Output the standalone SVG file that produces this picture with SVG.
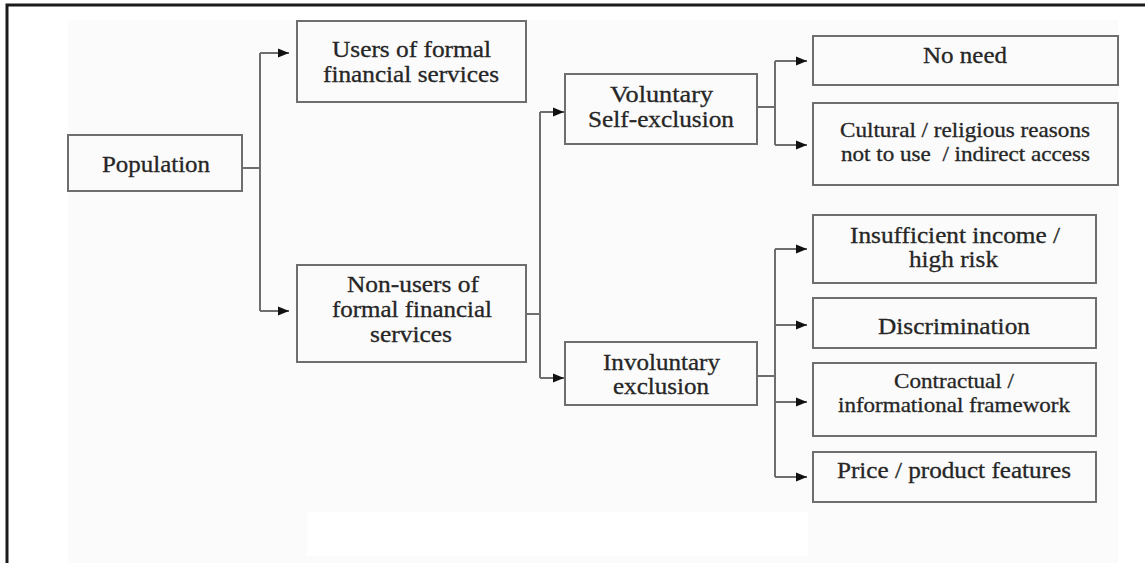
<svg xmlns="http://www.w3.org/2000/svg" width="1145" height="563" viewBox="0 0 1145 563">
<style>
.box{fill:none;stroke:#6e6e6e;stroke-width:2}
.t{font-family:'Liberation Serif','Times New Roman',serif;font-size:23px;fill:#262626;stroke:#262626;stroke-width:0.3;text-anchor:middle}
.s{font-size:21px}
.c{fill:none;stroke:#6e6e6e;stroke-width:2}
</style>
<defs>
<marker id="ah" markerUnits="userSpaceOnUse" markerWidth="12" markerHeight="10" refX="11" refY="5" orient="auto">
<path d="M0,0.5 L11,5 L0,9.5 z" fill="#111"/>
</marker>
</defs>
<rect x="0" y="0" width="1145" height="563" fill="#fff"/>
<rect x="68" y="20" width="1050" height="543" fill="#fbfbfb"/>
<rect x="307" y="512" width="501" height="44" fill="#fff"/>
<path d="M7,563 V5 H1145" fill="none" stroke="#1a1a1a" stroke-width="3"/>

<g id="connectors">
<path class="c" d="M242,168 H260 M260,53 V311"/>
<path class="c" d="M260,53 H289" marker-end="url(#ah)"/>
<path class="c" d="M260,311 H289" marker-end="url(#ah)"/>
<path class="c" d="M526,314 H540 M540,112 V378"/>
<path class="c" d="M540,112 H564" marker-end="url(#ah)"/>
<path class="c" d="M540,378 H564" marker-end="url(#ah)"/>
<path class="c" d="M757,107 H775 M775,61 V145"/>
<path class="c" d="M775,61 H807" marker-end="url(#ah)"/>
<path class="c" d="M775,145 H807" marker-end="url(#ah)"/>
<path class="c" d="M757,376 H775 M775,249 V477"/>
<path class="c" d="M775,249 H807" marker-end="url(#ah)"/>
<path class="c" d="M775,325 H807" marker-end="url(#ah)"/>
<path class="c" d="M775,402 H807" marker-end="url(#ah)"/>
<path class="c" d="M775,477 H807" marker-end="url(#ah)"/>
</g>

<g id="population">
<rect class="box" x="68" y="135" width="174" height="56"/>
<text class="t" x="156" y="172" textLength="108" lengthAdjust="spacingAndGlyphs">Population</text>
</g>
<g id="users">
<rect class="box" x="297" y="21" width="229" height="81"/>
<text class="t" x="411.5" y="57" textLength="159" lengthAdjust="spacingAndGlyphs">Users of formal</text>
<text class="t" x="411" y="82" textLength="176" lengthAdjust="spacingAndGlyphs">financial services</text>
</g>
<g id="nonusers">
<rect class="box" x="297" y="265" width="229" height="97"/>
<text class="t" x="413" y="292" textLength="132" lengthAdjust="spacingAndGlyphs">Non-users of</text>
<text class="t" x="412" y="317" textLength="160" lengthAdjust="spacingAndGlyphs">formal financial</text>
<text class="t" x="411" y="342" textLength="82" lengthAdjust="spacingAndGlyphs">services</text>
</g>
<g id="voluntary">
<rect class="box" x="565" y="74" width="192" height="70"/>
<text class="t" x="661.5" y="102" textLength="103" lengthAdjust="spacingAndGlyphs">Voluntary</text>
<text class="t" x="661" y="127" textLength="146" lengthAdjust="spacingAndGlyphs">Self-exclusion</text>
</g>
<g id="involuntary">
<rect class="box" x="565" y="342" width="192" height="63"/>
<text class="t" x="661.5" y="370" textLength="117" lengthAdjust="spacingAndGlyphs">Involuntary</text>
<text class="t" x="661" y="394" textLength="96" lengthAdjust="spacingAndGlyphs">exclusion</text>
</g>
<g id="noneed">
<rect class="box" x="813" y="36" width="305" height="49"/>
<text class="t" x="965" y="63" textLength="84" lengthAdjust="spacingAndGlyphs">No need</text>
</g>
<g id="cultural">
<rect class="box" x="813" y="103" width="305" height="82"/>
<text class="t s" x="965" y="137" textLength="250" lengthAdjust="spacingAndGlyphs">Cultural / religious reasons</text>
<text class="t s" x="965.5" y="161" textLength="249" lengthAdjust="spacingAndGlyphs" xml:space="preserve">not to use  / indirect access</text>
</g>
<g id="insufficient">
<rect class="box" x="813" y="215" width="283" height="68"/>
<text class="t" x="955" y="243" textLength="210" lengthAdjust="spacingAndGlyphs">Insufficient income /</text>
<text class="t" x="953.5" y="267" textLength="89" lengthAdjust="spacingAndGlyphs">high risk</text>
</g>
<g id="discrimination">
<rect class="box" x="813" y="298" width="283" height="50"/>
<text class="t" x="954" y="334" textLength="152" lengthAdjust="spacingAndGlyphs">Discrimination</text>
</g>
<g id="contractual">
<rect class="box" x="813" y="363" width="283" height="73"/>
<text class="t s" x="954" y="388" textLength="120" lengthAdjust="spacingAndGlyphs">Contractual /</text>
<text class="t s" x="954" y="412" textLength="232" lengthAdjust="spacingAndGlyphs">informational framework</text>
</g>
<g id="price">
<rect class="box" x="813" y="452" width="283" height="50"/>
<text class="t" x="954" y="478" textLength="234" lengthAdjust="spacingAndGlyphs">Price / product features</text>
</g>
</svg>
